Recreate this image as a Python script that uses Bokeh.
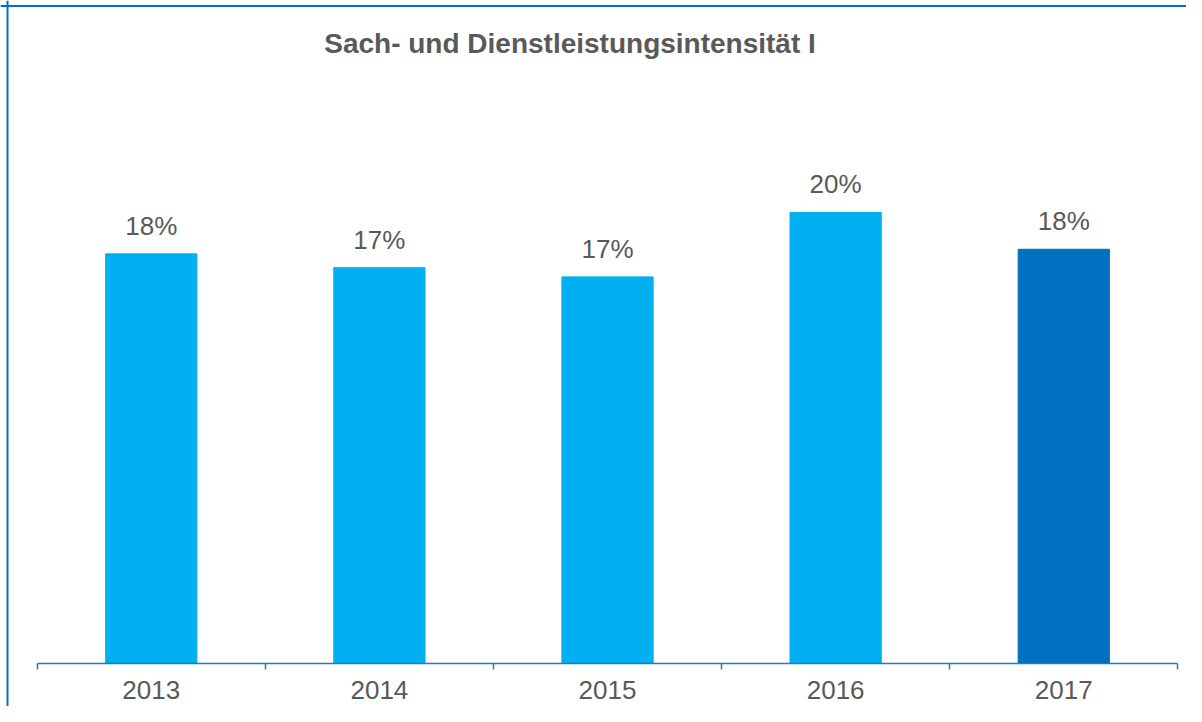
from bokeh.plotting import figure
from bokeh.models import Range1d, FixedTicker, Span, Label, ColumnDataSource
from bokeh.core.properties import value
from bokeh.embed import file_html
from bokeh.resources import INLINE

years = ["2013", "2014", "2015", "2016", "2017"]
values = [17.8, 17.2, 16.8, 19.6, 18.0]
labels = ["18%", "17%", "17%", "20%", "18%"]
colors = ["#00B0F0", "#00B0F0", "#00B0F0", "#00B0F0", "#0070C0"]
title_text = "Sach- und Dienstleistungsintensität I"

FONT = "Liberation Sans"
GRAY = "#595959"
BLUE = "#0070C0"
AXIS_BLUE = "#1F7BC8"

xs = [i + 0.5 for i in range(len(years))]
src = ColumnDataSource(dict(x=xs, top=values, label=labels, color=colors))

x_start, x_end = -0.1609, len(years) + 0.038
y_start, y_end = -1.869, 28.81

p = figure(width=1186, height=706, output_backend="svg", toolbar_location=None,
           x_range=Range1d(x_start, x_end), y_range=Range1d(y_start, y_end),
           y_axis_location=None, min_border_left=0, min_border_right=0,
           min_border_top=0, min_border_bottom=0)
p.outline_line_color = None
p.grid.visible = False
p.background_fill_color = "white"
p.border_fill_color = "white"

p.vbar(x="x", top="top", width=0.4, bottom=0, color="color", source=src)
p.text(x="x", y="top", text="label", source=src, text_align="center",
       text_baseline="alphabetic", y_offset=-28, text_color=GRAY,
       text_font=value(FONT), text_font_size="26px")

ax = p.xaxis[0]
ax.fixed_location = 0
ax.ticker = FixedTicker(ticks=xs, minor_ticks=list(range(len(years) + 1)))
ax.bounds = (0, len(years))
ax.major_label_overrides = {x: y for x, y in zip(xs, years)}
ax.axis_line_color = AXIS_BLUE
ax.axis_line_width = 1.5
ax.major_tick_line_color = None
ax.major_tick_out = 0
ax.major_tick_in = 0
ax.minor_tick_line_color = AXIS_BLUE
ax.minor_tick_line_width = 1.5
ax.minor_tick_out = 6
ax.minor_tick_in = 0
ax.major_label_text_font = FONT
ax.major_label_text_font_size = "26px"
ax.major_label_text_color = GRAY
ax.major_label_standoff = 12

p.add_layout(Span(location=x_start + 7 / 228.12, dimension="height",
                  line_color=BLUE, line_width=2))
p.add_layout(Span(location=y_end - 5.5 / 23.01, dimension="width",
                  line_color=BLUE, line_width=2))

p.add_layout(Label(x=2.3356, y=26.94, text=title_text, text_align="center",
                   text_baseline="alphabetic", text_font=FONT, text_font_size="28px",
                   text_font_style="bold", text_color=GRAY))

open("out.html", "w").write(file_html(p, INLINE))
